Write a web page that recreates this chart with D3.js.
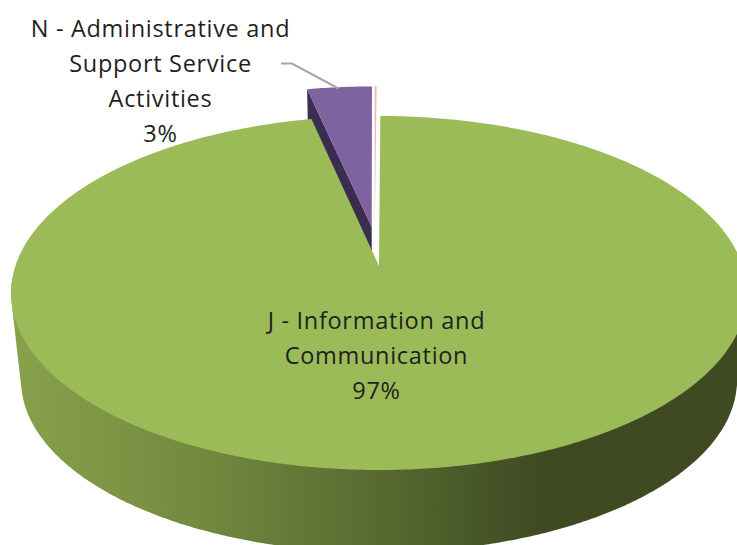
<!DOCTYPE html>
<html>
<head>
<meta charset="utf-8">
<script src="https://cdn.jsdelivr.net/npm/d3@7/dist/d3.min.js"></script>
<style>
html, body { margin: 0; padding: 0; background: #fff; }
svg { display: block; }
text { font-family: "Open Sans", "Noto Sans", sans-serif; font-size: 23.5px; letter-spacing: 0.7px; fill: #1f1f1f; }
</style>
</head>
<body>
<svg id="chart" width="737" height="545"></svg>
<script>
// Share of companies by economic activity.
const categories = ["J - Information and Communication", "N - Administrative and Support Service Activities", "Other"];
const sharePercent = [96.51, 3.39, 0.10];
const sliceColors = ["#9bbb59", "#7f63a1", "#eab8b8"];
const explosion = [0, 0.235, 0.235];
const explosionBearingShift = [0, 0.02, -0.052];
const labelLines = [
  ["J - Information and", "Communication"],
  ["N - Administrative and", "Support Service", "Activities"],
  []
];

const W = 737, H = 545;
const svg = d3.select("#chart");

// Perspective projection of the unit disc onto the page.
const cx = 379, cy = 266, ax = 363.6, by = 172.9, persp = 0.1525;
const bottomScale = 0.973, bottomDrop = 88;
const cutFaceColor = "#3a2d50";

function project(u, v) {
  const w = 1 - persp * v;
  return [cx + ax * u / w, cy + by * v / w];
}
function projectBottom(u, v) {
  const [x, y] = project(u, v);
  return [cx + bottomScale * (x - cx), cy + bottomScale * (y - cy) + bottomDrop];
}

const pie = d3.pie().sort(null).startAngle(0.0042).endAngle(0.0042 + 2 * Math.PI);
const arcs = pie(sharePercent).map((d, i) => {
  const mid = (d.startAngle + d.endAngle) / 2 + explosionBearingShift[i];
  return { ...d, i, ou: explosion[i] * Math.sin(mid), ov: -explosion[i] * Math.cos(mid) };
});

function rimPoints(d, fn, step = 0.01) {
  const n = Math.max(1, Math.ceil((d.endAngle - d.startAngle) / step));
  return d3.range(n + 1).map(k => {
    const a = d.startAngle + (d.endAngle - d.startAngle) * k / n;
    return fn(d.ou + Math.sin(a), d.ov - Math.cos(a));
  });
}
const line = d3.line();

// Wall shading runs left to right across the rim.
const grad = svg.append("defs").append("linearGradient")
  .attr("id", "wall").attr("gradientUnits", "userSpaceOnUse")
  .attr("x1", 15).attr("x2", 540).attr("y1", 0).attr("y2", 0);
grad.selectAll("stop")
  .data([[0, "#88a14b"], [0.35, "#738a3f"], [0.7, "#566a30"], [1, "#3f4a22"]])
  .join("stop")
  .attr("offset", d => d[0]).attr("stop-color", d => d[1]);

// Outer wall of the main slice: hull of the front half of both rims.
const frontAngles = d3.range(Math.PI * 0.52, Math.PI * 1.48, 0.01);
const wallHull = d3.polygonHull(frontAngles.flatMap(a => [
  project(Math.sin(a), -Math.cos(a)),
  projectBottom(Math.sin(a), -Math.cos(a))
]));
svg.append("path")
  .attr("d", line(wallHull) + "Z")
  .attr("fill", "url(#wall)");

// Cut face of the pulled-out slice; the main slice covers most of it.
const purple = arcs[1];
const topRim = rimPoints(purple, project);
const bottomRim = rimPoints(purple, projectBottom);
svg.append("path")
  .attr("d", line([
    project(purple.ou, purple.ov),
    topRim[0],
    bottomRim[0],
    projectBottom(purple.ou, purple.ov)
  ]) + "Z")
  .attr("fill", cutFaceColor);

// Top faces.
svg.append("g").selectAll("path")
  .data(arcs.slice().reverse())
  .join("path")
  .attr("d", d => line([project(d.ou, d.ov), ...rimPoints(d, project)]) + "Z")
  .attr("fill", d => sliceColors[d.i]);

// Leader line for the small slice label.
svg.append("path")
  .attr("d", line([[281, 63.5], [292, 63.5], [338.5, 88.5]]))
  .attr("fill", "none").attr("stroke", "#a6a6a6").attr("stroke-width", 2);

// Category labels with the rounded share on the last line.
const fmt = d3.format(".0%");
const labelAnchors = [[376.5, 329], [160.5, 37], null];
arcs.forEach(d => {
  if (!labelAnchors[d.i]) return;
  const [x, y] = labelAnchors[d.i];
  const rows = [...labelLines[d.i], fmt(sharePercent[d.i] / 100)];
  svg.append("g").selectAll("text")
    .data(rows)
    .join("text")
    .attr("x", x)
    .attr("y", (_, k) => y + k * 35)
    .attr("text-anchor", "middle")
    .text(t => t);
});
</script>
</body>
</html>
